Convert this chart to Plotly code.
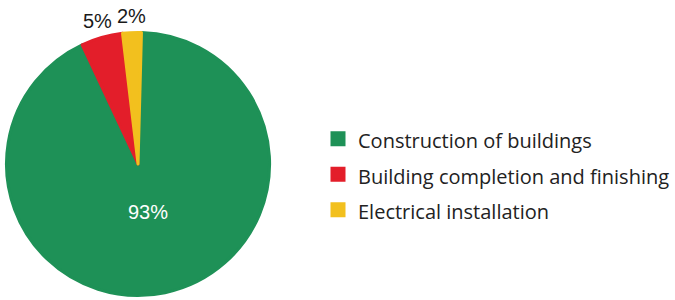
import math
import plotly.graph_objects as go

labels = ["Construction of buildings", "Building completion and finishing", "Electrical installation"]
values = [92.6, 5.1, 2.3]
colors = ["#1e9157", "#e31e2a", "#f2c01e"]

W, H = 675, 300
# pie domain in pixels (left, right, top, bottom)
px0, px1, py0, py1 = 6.5, 270.8, 31.8, 296.1
stroke = 3
rotation = 1.5

fig = go.Figure(go.Pie(
    labels=labels,
    values=values,
    sort=False,
    direction="clockwise",
    rotation=rotation,
    marker=dict(colors=colors, line=dict(width=stroke, color=colors)),
    textinfo="none",
    domain=dict(x=[px0 / W, px1 / W], y=[1 - py1 / H, 1 - py0 / H]),
    hoverinfo="label+percent",
))

# percentage labels placed from the slice angles
cx, cy = (px0 + px1) / 2, (py0 + py1) / 2
r = (px1 - px0) / 2 + stroke / 2
total = sum(values)
start = rotation
annotations = []
for i, v in enumerate(values):
    span = 360 * v / total
    mid = math.radians(start + span / 2)
    start += span
    inside = i == 0
    rho = 0.37 * r if inside else 1.11 * r
    x = cx + rho * math.sin(mid)
    y = cy - rho * math.cos(mid)
    annotations.append(dict(
        x=x / W, y=1 - y / H, xref="paper", yref="paper",
        text=f"{v / total:.0%}", showarrow=False,
        xanchor="center", yanchor="middle",
        font=dict(family="Liberation Sans, Arial, sans-serif", size=20,
                  color="white" if inside else "#1a1a1a"),
    ))

fig.update_traces(labels=[f'<span style="font-size:20px">{t}</span>' for t in labels])

fig.update_layout(
    width=W, height=H,
    margin=dict(l=0, r=0, t=0, b=0),
    paper_bgcolor="white",
    plot_bgcolor="white",
    font=dict(family="Open Sans, sans-serif", color="#222222"),
    annotations=annotations,
    legend=dict(
        x=319.5 / W, y=1 - 174.4 / H, xanchor="left", yanchor="middle",
        font=dict(size=25, color="#222222", family="Open Sans, sans-serif"),
        borderwidth=0,
    ),
    showlegend=True,
)

fig.write_html("out.html", config={"displayModeBar": False},
               post_script="document.body.style.margin='0px';")
